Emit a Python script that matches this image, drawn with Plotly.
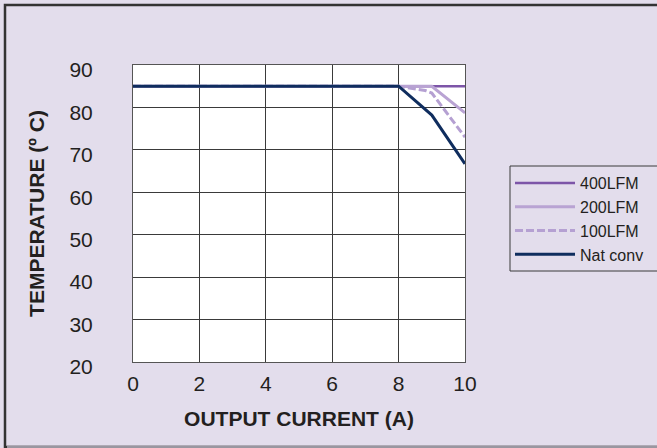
import plotly.graph_objects as go

# Data
series_names = ["400LFM", "200LFM", "100LFM", "Nat conv"]
x_400 = [0, 8, 10]
y_400 = [85, 85, 85]
x_200 = [0, 8, 9, 10]
y_200 = [85, 85, 85, 78.7]
x_100 = [0, 8, 8.8, 9, 10]
y_100 = [85, 85, 84, 83.4, 73]
x_nat = [0, 8, 9, 10]
y_nat = [85, 85, 78.2, 66.7]
x_ticks = [0, 2, 4, 6, 8, 10]
y_ticks = [20, 30, 40, 50, 60, 70, 80, 90]

BG = "#E3DDEC"
FONT = "Liberation Sans, Arial, sans-serif"
TXT = "#231F20"
fig = go.Figure()
fig.add_trace(go.Scatter(x=x_400, y=y_400, mode="lines", name=series_names[0],
                         line=dict(color="#7D55A8", width=2.5)))
fig.add_trace(go.Scatter(x=x_200, y=y_200, mode="lines", name=series_names[1],
                         line=dict(color="#B9A3D3", width=3)))
fig.add_trace(go.Scatter(x=x_100, y=y_100, mode="lines", name=series_names[2],
                         line=dict(color="#B5A0D2", width=3, dash="8px,3px")))
fig.add_trace(go.Scatter(x=x_nat, y=y_nat, mode="lines", name=series_names[3],
                         line=dict(color="#0F2D5E", width=3)))

axis_font = dict(family=FONT, size=21, color=TXT)
fig.update_layout(
    width=657, height=448,
    margin=dict(l=133, r=192, t=65, b=86, autoexpand=False),
    paper_bgcolor=BG, plot_bgcolor="white",
    font=dict(family=FONT, color=TXT),
    xaxis=dict(range=[0, 10], tickvals=x_ticks, showgrid=True, gridcolor="#3a3a3a", gridwidth=1,
               zeroline=False, showline=True, linecolor="#555555", linewidth=1, mirror=True,
               tickfont=axis_font, ticks="", ticklabelstandoff=3,
               title=dict(text="<b>OUTPUT CURRENT (A)</b>", font=dict(family=FONT, size=21, color=TXT), standoff=17)),
    yaxis=dict(range=[20, 90], tickvals=y_ticks, showgrid=True, gridcolor="#3a3a3a", gridwidth=1,
               zeroline=False, showline=True, linecolor="#555555", linewidth=1, mirror=True,
               tickfont=axis_font, ticks="", ticklabelstandoff=35, ticklabelshift=5,
               title=dict(text="<b>TEMPERATURE (º C)</b>", font=dict(family=FONT, size=21, color=TXT), standoff=19)),
    showlegend=True,
    legend=dict(x=(510 - 133) / 332, y=(362 - 166) / 297, xanchor="left", yanchor="top",
                bgcolor="rgba(0,0,0,0)", borderwidth=0,
                font=dict(family=FONT, size=16, color=TXT), itemwidth=60, tracegroupgap=0),
)
# legend frame (right edge runs off the canvas, as in the reference)
fig.add_shape(type="rect", xref="paper", yref="paper",
              x0=(510 - 133) / 332, x1=(700 - 133) / 332,
              y0=(362 - 271) / 297, y1=(362 - 166) / 297,
              line=dict(color="#3a3a3a", width=1), layer="above")
# outer frame (dark left/top, light bottom; right edge off-canvas)
fig.add_shape(type="rect", xref="paper", yref="paper",
              x0=(5 - 133) / 332, x1=(700 - 133) / 332,
              y0=(362 - 447) / 297, y1=(362 - 5) / 297,
              line=dict(color="#333333", width=2.5), layer="above")
fig.add_shape(type="line", xref="paper", yref="paper", x0=(7 - 133) / 332, x1=(700 - 133) / 332,
              y0=(362 - 447) / 297, y1=(362 - 447) / 297, line=dict(color="#9a96a0", width=2.5))

fig.write_html("out.html", config={"displayModeBar": False})
with open("out.html", "r", encoding="utf-8") as f:
    html = f.read()
html = html.replace("<body>", '<body style="margin:0;overflow:hidden">', 1)
with open("out.html", "w", encoding="utf-8") as f:
    f.write(html)
